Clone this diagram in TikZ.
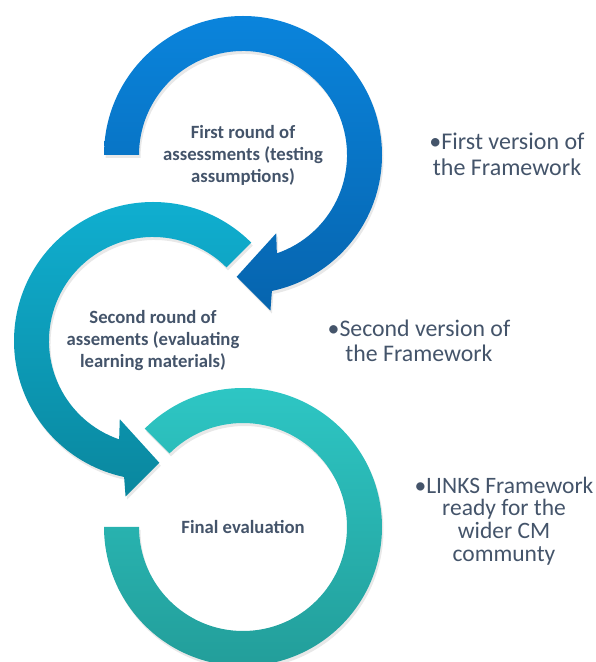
\documentclass[tikz,border=0pt]{standalone}
\usepackage{fontspec}
\setmainfont{Carlito}
\usetikzlibrary{shadows,backgrounds}
\definecolor{slate}{HTML}{44546A}
\definecolor{blueTop}{HTML}{0A84DC}
\definecolor{blueBot}{HTML}{0664AE}
\definecolor{tealTop}{HTML}{10B0D2}
\definecolor{tealBot}{HTML}{0A879E}
\definecolor{turqTop}{HTML}{2EC8C6}
\definecolor{turqBot}{HTML}{229C98}
\begin{document}
\begin{tikzpicture}[x=1pt,y=1pt]
	\tikzset{
		round label/.style={align=center,text=slate,font=\fontsize{18.7}{22}\selectfont\bfseries},
		note/.style={align=center,text=slate},
		ring/.style={drop shadow={opacity=0.18,shadow xshift=1.5pt,shadow yshift=-3pt}}
	}
	\useasboundingbox (0,0) rectangle (596,662);
	\node(round1)[round label] at (243,507) {First round of\\assessments (testing\\assumptions)};
	\node(round2)[round label] at (153,321) {Second round of\\assements (evaluating\\learning materials)};
	\node(final)[round label] at (243,135) {Final evaluation};
	\begin{pgfonlayer}{background}
		\begin{scope}[shift={(final.center)}]
			\shade[ring,top color=turqTop,bottom color=turqBot]
				(135:139) arc[start angle=135,end angle=-180,radius=139]
				-- (180:104) arc[start angle=-180,end angle=135,radius=104] -- cycle;
		\end{scope}
		\begin{scope}[shift={(round2.center)}]
			\shade[ring,top color=tealTop,bottom color=tealBot]
				(45:139) arc[start angle=45,end angle=258,radius=139]
				-- (260:158) -- (273:122) -- (247:85) -- (251:104)
				arc[start angle=251,end angle=45,radius=104] -- cycle;
		\end{scope}
		\begin{scope}[shift={(round1.center)}]
			\shade[ring,top color=blueTop,bottom color=blueBot]
				(180:139) arc[start angle=180,end angle=-78,radius=139]
				-- (-80:158) -- (-93:122) -- (-67:85) -- (-71:104)
				arc[start angle=-71,end angle=180,radius=104] -- cycle;
		\end{scope}
	\end{pgfonlayer}
	\node(note1)[note,font=\fontsize{24}{26}\selectfont] at (507,508) {•First version of\\the Framework};
	\node(note2)[note,font=\fontsize{23.8}{25}\selectfont] at (419,321) {•Second version of\\the Framework};
	\node(note3)[note,font=\fontsize{23.5}{22.7}\selectfont] at (504,141) {•LINKS Framework\\ready for the\\wider CM\\communty};
\end{tikzpicture}
\end{document}
